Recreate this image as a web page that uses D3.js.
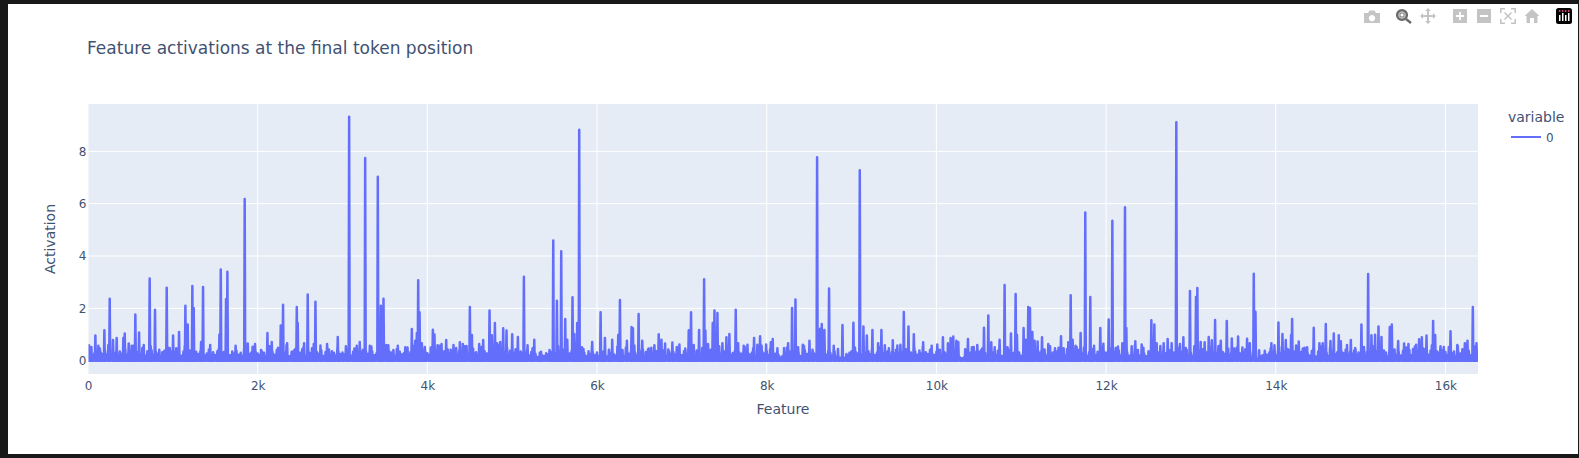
<!DOCTYPE html>
<html>
<head>
<meta charset="utf-8">
<script src="https://cdn.jsdelivr.net/npm/d3@7/dist/d3.min.js"></script>
<style>
    html, body { margin: 0; padding: 0; background: #181818; overflow: hidden; }
    svg { display: block; }
    text { font-family: "DejaVu Sans", Verdana, sans-serif; fill: #3f5272; }
</style>
</head>
<body>
<div id="chart"></div>
<script>
// tall-ish activations
const peakFeatures = [
    12, 87, 122, 193, 256, 295, 338, 417, 433, 480, 515, 558, 602, 657, 727, 790, 928, 963, 1003, 1073, 1148, 1175, 1230, 1246, 1333, 1356, 1549, 1565, 1627, 1643, 1847, 1883, 1969, 2115, 2166, 2272, 2299, 2347, 2461, 2472, 2547, 2590, 2661, 2681, 2818, 2944, 3078, 3168, 3203,
    3267, 3322, 3416, 3452, 3483, 3515, 3652, 3766, 3817, 3857, 3876, 3892, 3908, 3935, 3970, 4065, 4084, 4120, 4167, 4222, 4308, 4383, 4418, 4462, 4501, 4525, 4611, 4658, 4733, 4760, 4796, 4823, 4859, 4894, 4933, 5000, 5067, 5138, 5181, 5260, 5484, 5527, 5578, 5625, 5649, 5711, 5731, 5766, 5790, 5822, 5943, 6042, 6093, 6179, 6250, 6270, 6352, 6407, 6423, 6490, 6533,
    6609, 6676, 6727, 6759, 6802, 6888, 6971, 7081, 7108, 7132, 7203, 7262, 7277, 7309, 7364, 7384, 7419, 7478, 7525, 7560, 7635, 7663, 7729, 7773, 7851, 7890, 7922, 7993, 8048, 8071, 8126, 8205, 8252, 8299, 8339, 8370, 8425, 8504, 8594, 8629, 8649, 8680, 8735, 8790, 8893, 9022, 9097, 9140, 9180, 9246, 9313, 9352, 9392, 9486, 9576, 9616, 9671, 9734, 9844,
    9944, 10011, 10077, 10136, 10168, 10199, 10235, 10258, 10372, 10419, 10482, 10561, 10612, 10647, 10687, 10745, 10804, 10836, 10879, 10934, 10950, 11028, 11052, 11083, 11103, 11131, 11158, 11193, 11245, 11319, 11398, 11469, 11500, 11555, 11583, 11606, 11653, 11700, 11755, 11814, 11858, 11932, 11968, 12031, 12074, 12113, 12192, 12223, 12239, 12302, 12345, 12420, 12534, 12569, 12596, 12679, 12726, 12773, 12828, 12871, 12911, 12989, 13060, 13076, 13115, 13162,
    13210, 13246, 13285, 13324, 13352, 13423, 13482, 13509, 13556, 13607, 13662, 13694, 13741, 13761, 13804, 13871, 13949, 13985, 14032, 14079, 14118, 14181, 14193, 14271, 14319, 14370, 14448, 14515, 14554, 14590, 14645, 14684, 14743, 14767, 14885, 14936, 15010, 15089, 15128, 15171, 15211, 15246, 15344, 15368, 15443, 15513, 15564, 15619, 15655, 15690, 15722, 15777, 15855, 15879, 15942, 15981, 16060, 16146, 16229, 16260, 16323, 16366
];
const peakValues = [
    .59, .96, .57, 1.16, 2.37, .79, .87, .87, 1.04, .66, .57, 1.76, 1.08, .6, 3.14, 1.95, 2.79, .48, .96, 1.1, 2.1, 1.38, 2.85, 2.01, .71, 2.82, 1.0, 3.48, 2.36, 3.4, 6.18, .66, .64, 1.06, .71, 1.34, 2.14, .67, 2.05, 1.44, .67, 2.53, .64, 2.25, .64, .9, 9.32, .57, .71,
    7.75, .57, 7.03, 2.1, 2.37, .6, .57, .5, 1.21, .76, 1.06, 3.07, 1.85, .67, .52, 1.18, 1.0, .59, .64, .79, .6, .7, .64, .56, 2.05, .98, .64, .79, 1.92, .97, 1.44, .67, .71, 1.24, 1.15, 1.01, .9, 3.21, .59, .8, 4.59, 2.29, 4.18, 1.59, .8, 2.42, 1.02, 1.44, 8.83, .51, .71, 1.85, .87, .8, .98, 2.32, .76, 1.29, 1.24, 1.78, .76,
    .46, .59, 1.01, .8, .66, .69, .62, 1.16, 1.85, .47, 1.17, 3.11, 1.15, .64, 1.44, 1.92, 1.82, .67, .89, 1.02, 1.95, .67, .57, .61, .87, .61, .93, .62, .7, .83, .47, .48, .67, 2.01, 2.34, .51, .61, .76, 7.77, 1.22, 1.4, 1.17, 2.76, .57, 1.36, 1.45, 7.28, 1.31, .96, 1.17, .67, 1.17, .59, .78, .61, 1.86, 1.31, 1.01, .7,
    .57, .62, .89, .67, .87, .92, .76, .71, .83, .51, .6, 1.26, 1.73, .7, .51, .8, 2.89, .51, 1.04, 2.55, .99, 1.25, .8, 2.05, 2.01, 1.1, .76, .73, .89, .64, .47, .93, .47, .7, 2.5, .8, .52, 1.06, 5.66, 2.43, .57, 1.25, .65, 1.57, 5.35, .48, .67, 5.86, 1.25, .55, .74, .62, 1.54, 1.38, .67, .67, .83, .67, 9.11, .64, .89, 2.66, 2.43, 2.78, .71, .7,
    .9, .78, 1.55, .55, .76, 1.52, .85, .46, .92, .5, .84, .67, 3.32, 1.87, .4, .38, .67, .59, 1.46, 1.02, .79, .98, 1.59, .73, .46, .51, 1.26, .67, .67, 1.4, .75, 1.04, .97, .74, .79, .48, 1.38, 3.31, .97, .99, 1.31, .9, 1.29, 1.38, .75, .66, .64, .45, .61, .82, .89, .96, 1.52, .98, .55, .52, 1.12, .56, .67, .76, 2.05, .67
];

// low activations, one value every floorStep features, a row is 1000 features
const floorStep = 25;
const floorValues = [
    .34, .41, .22, .28, .37, .19, .31, .26, .4, .24, .33, .21, .36, .29, .18, .35, .27, .42, .23, .3, .38, .2, .26, .33, .44, .25, .31, .19, .36, .28, .4, .22, .34, .27, .17, .32, .38, .24, .29, .36,
    .21, .33, .41, .26, .19, .35, .3, .23, .39, .28, .18, .34, .25, .37, .31, .2, .27, .43, .24, .32, .22, .36, .29, .17, .33, .4, .26, .21, .35, .28, .38, .23, .3, .19, .34, .42, .25, .31, .2, .37,
    .27, .22, .35, .3, .18, .39, .26, .33, .23, .41, .28, .2, .36, .31, .24, .17, .34, .38, .27, .22, .3, .44, .25, .19, .35, .29, .37, .21, .32, .26, .4, .18, .33, .28, .23, .36, .3, .2, .38, .25,
    .31, .24, .42, .27, .19, .34, .29, .22, .37, .32, .17, .4, .26, .3, .35, .21, .28, .39, .23, .33, .25, .18, .36, .31, .41, .2, .27, .34, .24, .29, .38, .22, .32, .19, .43, .26, .35, .3, .21, .37,
    .28, .23, .33, .18, .4, .27, .31, .24, .36, .2, .29, .42, .25, .34, .19, .38, .3, .22, .35, .26, .17, .39, .28, .32, .23, .41, .21, .36, .27, .3, .19, .34, .44, .24, .29, .37, .2, .33, .26, .38,
    .22, .31, .27, .17, .35, .29, .24, .4, .2, .33, .16, .26, .14, .3, .22, .18, .28, .24, .34, .16, .3, .2, .36, .25, .42, .21, .32, .27, .38, .19, .35, .29, .23, .41, .3, .18, .36, .26, .33, .22,
    .31, .18, .27, .35, .22, .16, .3, .38, .24, .2, .33, .28, .41, .19, .34, .26, .37, .23, .3, .21, .39, .27, .17, .33, .43, .25, .31, .2, .36, .28, .22, .4, .3, .19, .35, .26, .33, .24, .38, .29,
    .21, .36, .27, .42, .18, .32, .25, .39, .3, .22, .34, .19, .37, .28, .24, .41, .2, .33, .27, .17, .35, .3, .44, .23, .29, .38, .21, .32, .26, .36, .19, .4, .24, .31, .28, .18, .35, .22, .33, .27,
    .37, .23, .3, .2, .26, .15, .1, .16, .24, .31, .2, .34, .27, .38, .22, .33, .18, .29, .4, .25, .35, .21, .31, .26, .43, .19, .34, .28, .23, .37, .3, .2, .36, .17, .13, .12, .16, .11, .21, .3,
    .36, .2, .33, .27, .41, .23, .3, .18, .35, .25, .38, .22, .31, .19, .4, .28, .24, .36, .17, .33, .29, .42, .21, .27, .34, .2, .37, .26, .31, .18, .35, .23, .39, .28, .19, .32, .25, .41, .3, .22,
    .34, .27, .2, .37, .31, .24, .18, .36, .42, .29, .23, .13, .09, .12, .18, .22, .3, .26, .35, .2, .33, .4, .24, .29, .19, .37, .27, .32, .22, .38, .25, .18, .34, .3, .41, .21, .28, .36, .23, .31,
    .19, .35, .26, .4, .22, .33, .28, .17, .37, .3, .24, .43, .2, .34, .27, .31, .18, .36, .25, .39, .29, .21, .33, .26, .16, .35, .3, .41, .23, .28, .37, .19, .32, .25, .38, .22, .34, .27, .2, .36,
    .3, .42, .24, .18, .33, .28, .39, .21, .35, .26, .31, .19, .37, .23, .29, .41, .2, .34, .27, .17, .36, .3, .25, .38, .22, .32, .19, .4, .28, .24, .35, .18, .31, .37, .26, .21, .33, .29, .42, .23,
    .3, .19, .36, .25, .39, .27, .21, .34, .31, .17, .38, .24, .29, .43, .2, .33, .26, .36, .22, .3, .4, .18, .35, .27, .31, .23, .37, .2, .33, .16, .13, .08, .11, .15, .2, .28, .23, .32, .26, .35,
    .21, .38, .29, .18, .34, .25, .41, .3, .22, .36, .27, .19, .33, .44, .24, .31, .2, .37, .28, .16, .35, .26, .4, .23, .3, .19, .34, .38, .25, .32, .21, .36, .29, .43, .18, .33, .27, .39, .22, .31,
    .24, .37, .2, .34, .28, .41, .19, .3, .36, .25, .22, .39, .31, .17, .35, .27, .43, .23, .33, .2, .38, .29, .26, .41, .21, .34, .3, .18, .37, .25, .44, .32, .23, .39, .28, .2, .36, .31, .42, .26,
    .33, .22, .4, .29, .35, .19, .37, .27, .44, .24, .31, .38, .21, .34, .41, .28
];

// the bumpy top of the low band, one value every bumpStep features, a row is 2000 features
const bumpStep = 100;
const bumpOffset = 40;
const bumpValues = [
    .52, .46, .6, .5, .44, .58, .48, .55, .42, .5, .47, .56, .45, .52, .6, .43, .5, .57, .46, .53,
    .41, .55, .49, .6, .44, .52, .47, .58, .43, .5, .55, .46, .42, .54, .48, .59, .45, .51, .56, .44,
    .5, .57, .43, .48, .55, .46, .52, .42, .58, .49, .44, .53, .47, .34, .41, .56, .48, .52, .45, .55,
    .47, .42, .54, .5, .58, .44, .49, .56, .43, .52, .46, .6, .48, .42, .55, .5, .45, .53, .47, .57,
    .44, .22, .5, .46, .56, .42, .53, .48, .45, .25, .5, .55, .43, .52, .47, .58, .44, .5, .54, .46,
    .42, .48, .18, .44, .52, .46, .56, .43, .5, .58, .47, .53, .42, .55, .49, .45, .57, .5, .44, .52,
    .47, .54, .43, .6, .49, .45, .56, .42, .51, .48, .55, .44, .52, .58, .46, .5, .43, .57, .2, .47,
    .53, .45, .58, .49, .43, .55, .5, .46, .6, .44, .52, .56, .47, .42, .57, .5, .54, .46, .59, .48,
    .52, .6, .45, .55
];

const xTickValues = [0, 2000, 4000, 6000, 8000, 10000, 12000, 14000, 16000];
const xTickLabels = ["0", "2k", "4k", "6k", "8k", "10k", "12k", "14k", "16k"];
const yTickValues = [0, 2, 4, 6, 8];

const titleText = "Feature activations at the final token position";
const xTitle = "Feature";
const yTitle = "Activation";
const legendTitle = "variable";
const legendItems = ["0"];

const width = 1579, height = 458;
const plot = { left: 88.5, right: 1478, top: 104, bottom: 374 };
const traceColor = "#636efa";
const textColor = "#3f5272";
const spikeHalfWidth = 6;

const svg = d3.select("#chart")
    .append("svg")
    .attr("width", width)
    .attr("height", height);

// screenshot frame
svg.append("rect").attr("width", width).attr("height", height).attr("fill", "#181818");
svg.append("rect").attr("x", 8).attr("y", 4).attr("width", 1570).attr("height", 450).attr("fill", "#fff");

const x = d3.scaleLinear().domain([0, 16384]).range([88, 1478]);
const y = d3.scaleLinear().domain([-0.51, 9.81]).range([plot.bottom, plot.top]);

svg.append("rect")
    .attr("x", plot.left)
    .attr("y", plot.top)
    .attr("width", plot.right - plot.left)
    .attr("height", plot.bottom - plot.top)
    .attr("fill", "#e5ecf6");

svg.append("clipPath").attr("id", "plot-clip")
    .append("rect")
    .attr("x", plot.left)
    .attr("y", plot.top)
    .attr("width", plot.right - plot.left)
    .attr("height", plot.bottom - plot.top);

// grid
svg.append("g").selectAll("line")
    .data(xTickValues.slice(1))
    .enter()
    .append("line")
    .attr("x1", d => x(d)).attr("x2", d => x(d))
    .attr("y1", plot.top).attr("y2", plot.bottom)
    .attr("stroke", "#fff").attr("stroke-width", 1);

svg.append("g").selectAll("line")
    .data(yTickValues)
    .enter()
    .append("line")
    .attr("x1", plot.left).attr("x2", plot.right)
    .attr("y1", d => y(d)).attr("y2", d => y(d))
    .attr("stroke", "#fff").attr("stroke-width", d => d === 0 ? 2 : 1);

// every reading goes up from zero and back down
const readings = floorValues.map((v, i) => [i * floorStep, v])
    .concat(bumpValues.map((v, i) => [i * bumpStep + bumpOffset, v]))
    .concat(peakValues.map((v, i) => [peakFeatures[i], v]))
    .sort((a, b) => a[0] - b[0]);

const linePoints = [];
readings.forEach(d => {
    linePoints.push([d[0] - spikeHalfWidth, 0], d, [d[0] + spikeHalfWidth, 0]);
});

const line = d3.line()
    .x(d => x(d[0]))
    .y(d => y(d[1]));

svg.append("path")
    .datum(linePoints)
    .attr("clip-path", "url(#plot-clip)")
    .attr("d", line)
    .attr("fill", "none")
    .attr("stroke", traceColor)
    .attr("stroke-width", 2.5)
    .attr("stroke-linejoin", "round");

// axes
const xAxis = svg.append("g")
    .attr("transform", `translate(0,${plot.bottom})`)
    .call(d3.axisBottom(x)
        .tickValues(xTickValues)
        .tickFormat((d, i) => xTickLabels[i])
        .tickSize(0)
        .tickPadding(7));
xAxis.select(".domain").remove();
xAxis.selectAll("text").style("font-size", "12px").style("font-family", '"DejaVu Sans"').style("fill", textColor);

const yAxis = svg.append("g")
    .attr("transform", `translate(${plot.left},0)`)
    .call(d3.axisLeft(y)
        .tickValues(yTickValues)
        .tickSize(0)
        .tickPadding(2));
yAxis.select(".domain").remove();
yAxis.selectAll("text").style("font-size", "12px").style("font-family", '"DejaVu Sans"').style("fill", textColor);

// titles
svg.append("text")
    .attr("x", 87).attr("y", 54)
    .style("font-size", "17px")
    .text(titleText);

svg.append("text")
    .attr("x", 783).attr("y", 414)
    .attr("text-anchor", "middle")
    .style("font-size", "14px")
    .text(xTitle);

svg.append("text")
    .attr("transform", "translate(55,239) rotate(-90)")
    .attr("text-anchor", "middle")
    .style("font-size", "14px")
    .text(yTitle);

// legend
svg.append("text")
    .attr("x", 1508).attr("y", 122)
    .style("font-size", "14px")
    .text(legendTitle);

legendItems.forEach((d, i) => {
    const rowY = 137 + i * 19;
    svg.append("line")
        .attr("x1", 1511).attr("x2", 1541)
        .attr("y1", rowY).attr("y2", rowY)
        .attr("stroke", traceColor).attr("stroke-width", 2);
    svg.append("text")
        .attr("x", 1546).attr("y", rowY + 4.5)
        .style("font-size", "12px")
        .text(d);
});

// modebar
const bar = svg.append("g").attr("fill", "#c4c4c4");

// camera
bar.append("path").attr("d", "M1364 13h4l1.5-2.5h5L1376 13h4v10h-16zM1372 15a3.2 3.2 0 1 0 .01 0z").attr("fill-rule", "evenodd");
// zoom, the active one
const active = svg.append("g");
active.append("circle").attr("cx", 1402).attr("cy", 15).attr("r", 4.8)
    .attr("fill", "none").attr("stroke", "#6a6a6a").attr("stroke-width", 2.6);
active.append("rect").attr("x", 1400).attr("y", 13).attr("width", 4).attr("height", 4).attr("fill", "none").attr("stroke", "#6a6a6a");
active.append("line").attr("x1", 1406).attr("y1", 19).attr("x2", 1411).attr("y2", 23)
    .attr("stroke", "#6a6a6a").attr("stroke-width", 2.4);
// pan
bar.append("path").attr("d", "M1428 8l3 3h-2v4h4v-2l3 3-3 3v-2h-4v4h2l-3 3-3-3h2v-4h-4v2l-3-3 3-3v2h4v-4h-2z");
// zoom in / out
bar.append("path").attr("d", "M1453 9h14v14h-14zM1459 12v3h-3v2h3v3h2v-3h3v-2h-3v-3z").attr("fill-rule", "evenodd");
bar.append("path").attr("d", "M1477 9h14v14h-14zM1480 15v2h8v-2z").attr("fill-rule", "evenodd");
// autoscale
bar.append("path").attr("d", "M1500 8h5v1.5h-3.5V13H1500zM1511 8h5v5h-1.5V9.500H1511zM1500 19h1.500v3.500h3.500V24h-5zM1514.500 19h1.500v5h-5v-1.500h3.500zM1505 12l3 3 3-3 1 1-3 3 3 3-1 1-3-3-3 3-1-1 3-3-3-3z");
// home
bar.append("path").attr("d", "M1532 9l7.500 7h-2v7h-3.500v-5h-4v5h-3.500v-7h-2z");
// plotly logo
svg.append("rect").attr("x", 1556).attr("y", 8).attr("width", 16).attr("height", 16).attr("rx", 2.5).attr("fill", "#000");
svg.append("g").selectAll("rect")
    .data([[1559, 15, 6], [1562, 13, 8], [1565, 15, 6], [1568, 13, 8]])
    .enter()
    .append("rect")
    .attr("x", d => d[0]).attr("y", d => d[1])
    .attr("width", 1.5).attr("height", d => d[2])
    .attr("fill", "#fff");
svg.append("g").selectAll("circle")
    .data([1559.7, 1562.7, 1565.7, 1568.7])
    .enter()
    .append("circle")
    .attr("cx", d => d).attr("cy", 11)
    .attr("r", 0.9)
    .attr("fill", "#e8478b");
</script>
</body>
</html>
